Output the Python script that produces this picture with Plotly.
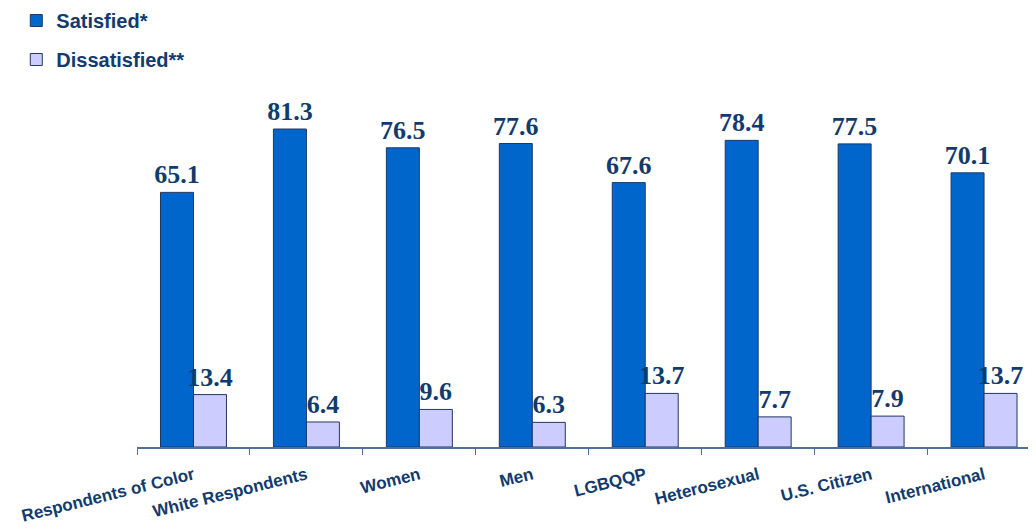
import plotly.graph_objects as go

groups = ["Respondents of Color", "White Respondents", "Women", "Men",
          "LGBQQP", "Heterosexual", "U.S. Citizen", "International"]
satisfied = [65.1, 81.3, 76.5, 77.6, 67.6, 78.4, 77.5, 70.1]
dissatisfied = [13.4, 6.4, 9.6, 6.3, 13.7, 7.7, 7.9, 13.7]

navy = "#123b6d"
label_font = dict(family="Liberation Serif", size=26, color=navy, weight="bold")

fig = go.Figure()
fig.add_trace(go.Bar(
    x=groups, y=satisfied, name="Satisfied*", legendgroup="a",
    marker=dict(color="#0066cc", line=dict(color="#1f3864", width=1)),
    text=satisfied, texttemplate="%{y:.1f}", textposition="outside",
    textfont=label_font, cliponaxis=False, constraintext="none",
))
fig.add_trace(go.Bar(
    x=groups, y=dissatisfied, name="Dissatisfied**", legendgroup="b",
    marker=dict(color="#ccccff", line=dict(color="#1f3864", width=1)),
    text=dissatisfied, texttemplate="%{y:.1f}", textposition="outside",
    textfont=label_font, cliponaxis=False, constraintext="none",
))

fig.update_layout(
    width=1036, height=531,
    margin=dict(l=129, r=8, t=87, b=92, autoexpand=False),
    plot_bgcolor="white", paper_bgcolor="white",
    barmode="group", bargap=0.416, bargroupgap=0,
    showlegend=True,
    legend=dict(
        xref="container", yref="paper", x=0.008, y=1.267,
        xanchor="left", yanchor="top",
        font=dict(family="Liberation Sans", size=20, color=navy, weight="bold"),
        tracegroupgap=10, itemwidth=30,
    ),
    xaxis=dict(
        range=[-0.5, 7.46], showline=True, linecolor="#4f6f97", linewidth=1.5,
        ticks="outside", tickson="boundaries", ticklen=6, tickcolor="#4f6f97",
        tickangle=-14, ticklabelstandoff=10,
        tickfont=dict(family="Liberation Sans", size=17, color=navy, weight="bold"),
    ),
    yaxis=dict(range=[0, 90], visible=False, showgrid=False),
)

fig.write_html("out.html")
